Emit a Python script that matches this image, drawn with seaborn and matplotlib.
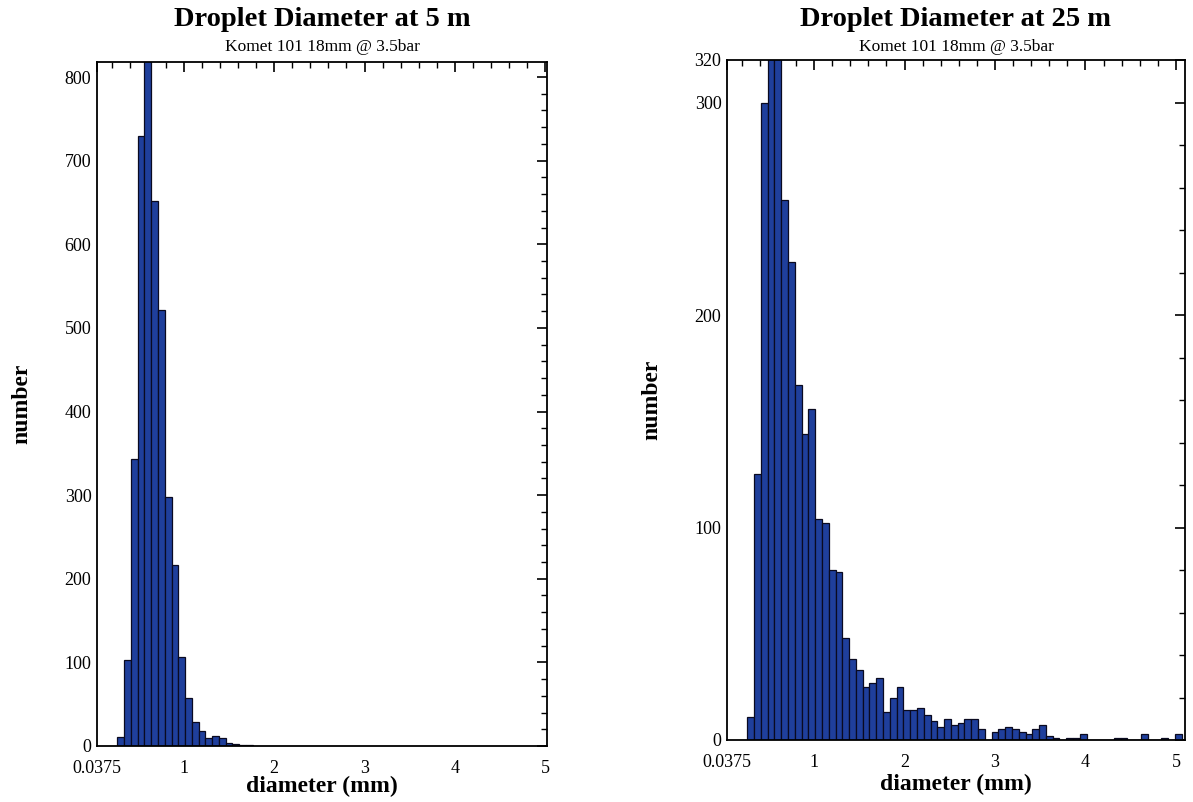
import numpy as np
import pandas as pd
import matplotlib
matplotlib.use("Agg")
import matplotlib.pyplot as plt
import seaborn as sns
from matplotlib.ticker import MultipleLocator, FixedLocator

# ---------------- data ----------------
bin_width = 0.075
centers_5m = [0.3, 0.375, 0.45, 0.525, 0.6, 0.675, 0.75, 0.825, 0.9, 0.975,
              1.05, 1.125, 1.2, 1.275, 1.35, 1.425, 1.5, 1.575, 1.65, 1.725]
counts_5m = [11, 103, 343, 730, 880, 652, 522, 298, 216, 106,
             57, 29, 18, 9, 12, 9, 3, 2, 1, 1]

centers_25m = [0.3, 0.375, 0.45, 0.525, 0.6, 0.675, 0.75, 0.825, 0.9, 0.975,
               1.05, 1.125, 1.2, 1.275, 1.35, 1.425, 1.5, 1.575, 1.65, 1.725,
               1.8, 1.875, 1.95, 2.025, 2.1, 2.175, 2.25, 2.325, 2.4, 2.475,
               2.55, 2.625, 2.7, 2.775, 2.85, 2.925, 3.0, 3.075, 3.15, 3.225,
               3.3, 3.375, 3.45, 3.525, 3.6, 3.675, 3.75, 3.825, 3.9, 3.975,
               4.05, 4.125, 4.2, 4.275, 4.35, 4.425, 4.5, 4.575, 4.65, 4.725,
               4.8, 4.875, 4.95, 5.025]
counts_25m = [11, 125, 300, 345, 340, 254, 225, 167, 144, 156,
              104, 102, 80, 79, 48, 38, 33, 25, 27, 29,
              13, 20, 25, 14, 14, 15, 12, 9, 6, 10,
              7, 8, 10, 10, 5, 0, 4, 5, 6, 5,
              4, 3, 5, 7, 2, 1, 0, 1, 1, 3,
              0, 0, 0, 0, 1, 1, 0, 0, 3, 0,
              0, 1, 0, 3]

titles = ["Droplet Diameter at 5 m", "Droplet Diameter at 25 m"]
subtitle = "Komet 101 18mm @ 3.5bar"
xtick_vals = [0.0375, 1, 2, 3, 4, 5]
xtick_labels = ["0.0375", "1", "2", "3", "4", "5"]
yticks_5m = [0, 100, 200, 300, 400, 500, 600, 700, 800]
yticks_25m = [0, 100, 200, 300, 320]

# ---------------- style ----------------
sns.set_style("white")
plt.rcParams["font.family"] = ["Liberation Serif", "DejaVu Serif"]
plt.rcParams["text.color"] = "black"
plt.rcParams["axes.labelcolor"] = "black"
plt.rcParams["xtick.color"] = "black"
plt.rcParams["ytick.color"] = "black"
plt.rcParams["xtick.direction"] = "in"
plt.rcParams["ytick.direction"] = "in"

W, H = 1193, 802
fig = plt.figure(figsize=(W / 100, H / 100), dpi=100)

def px_axes(x0, y0, x1, y1):
    return fig.add_axes([x0 / W, 1 - y1 / H, (x1 - x0) / W, (y1 - y0) / H])

ax1 = px_axes(97, 62, 547, 746)
ax2 = px_axes(727, 60, 1185, 740)

bar_color = "#1f3f9c"

def draw(ax, centers, counts, ylim, yticks, xmax, xlabelpad, ylabelpad):
    lo = float(centers[0]) - bin_width / 2
    hi = float(centers[-1]) + bin_width / 2
    df = pd.DataFrame({"diameter": centers, "n": counts})
    sns.histplot(data=df, x="diameter", weights="n", binwidth=bin_width,
                 binrange=(lo, hi), ax=ax,
                 color=bar_color, alpha=1.0, edgecolor="#0a0a20", linewidth=0.9)
    ax.set_xlim(0.0375, xmax)
    ax.set_ylim(*ylim)
    ax.xaxis.set_major_locator(FixedLocator(xtick_vals))
    ax.set_xticklabels(xtick_labels)
    ax.xaxis.set_minor_locator(MultipleLocator(0.2))
    ax.yaxis.set_major_locator(FixedLocator(yticks))
    ax.yaxis.set_minor_locator(MultipleLocator(20))
    ax.tick_params(which="both", top=True, right=True, direction="in",
                   color="black", labelcolor="black", labelsize=13)
    ax.tick_params(axis="x", which="major", pad=10)
    ax.tick_params(axis="y", which="major", pad=4)
    ax.tick_params(which="major", length=7, width=1.2)
    ax.tick_params(which="minor", length=4, width=1.0)
    for s in ax.spines.values():
        s.set_color("black")
        s.set_linewidth(1.3)
    ax.set_xlabel("diameter (mm)", fontsize=17, fontweight="bold",
                  labelpad=xlabelpad, color="black")
    ax.set_ylabel("number", fontsize=17, fontweight="bold",
                  labelpad=ylabelpad, color="black")

draw(ax1, centers_5m, counts_5m, (0, 818), yticks_5m, 5.02, -1, 23)
draw(ax2, centers_25m, counts_25m, (0, 320), yticks_25m, 5.1, 2, 23)

for ax, title in zip((ax1, ax2), titles):
    pos = ax.get_position()
    cx = (pos.x0 + pos.x1) / 2
    fig.text(cx, 1 - 19 / H, title, ha="center", va="center",
             fontsize=20.5, fontweight="bold", color="black")
    fig.text(cx, 1 - 47 / H, subtitle, ha="center", va="center",
             fontsize=12.5, color="black")

fig.savefig("out.png", dpi=100)
